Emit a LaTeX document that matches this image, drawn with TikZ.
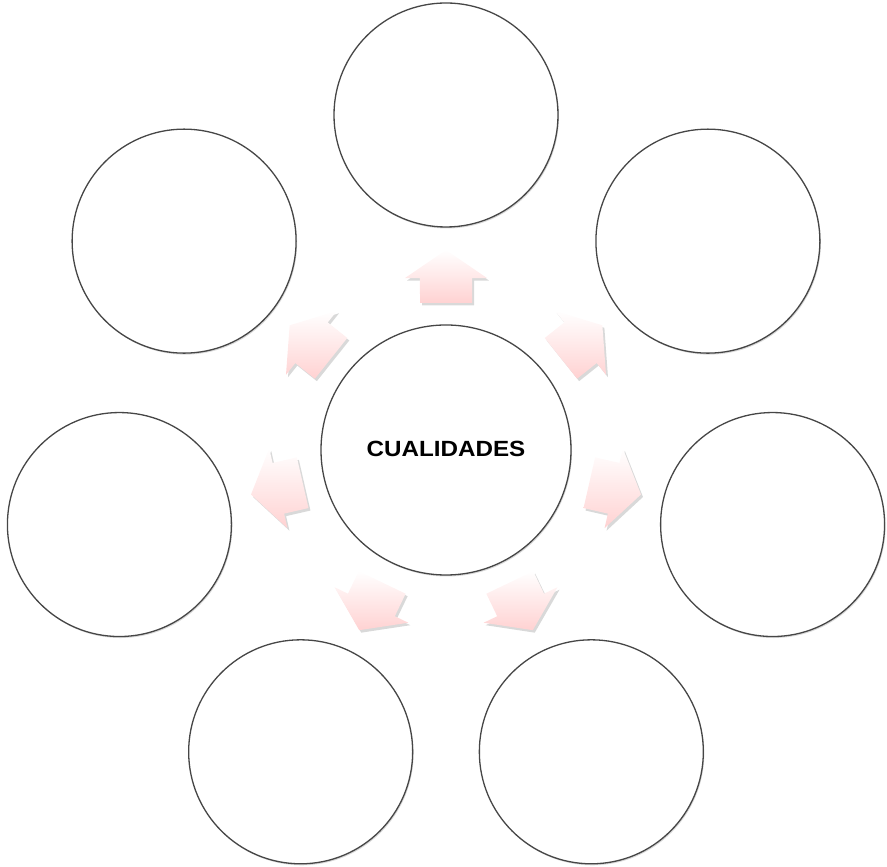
\documentclass[tikz,border=0pt]{standalone}
\usepackage{fontspec}
\setmainfont{Liberation Sans}
\usetikzlibrary{shadows,calc}
\definecolor{arrowpink}{RGB}{255,210,210}
\definecolor{ringgray}{RGB}{70,70,70}
\tikzset{
  bubble/.style={circle, draw=ringgray, line width=1.3pt, fill=white, inner sep=0pt,
    drop shadow={opacity=0.3, shadow xshift=1pt, shadow yshift=-1.5pt}},
  outerbubble/.style={bubble, minimum size=224pt},
  centerbubble/.style={bubble, minimum size=250pt},
  blockarrow/.style={top color=white, bottom color=arrowpink, draw=none,
    drop shadow={opacity=0.3, shadow xshift=2pt, shadow yshift=-2.5pt}}
}
\begin{document}
\begin{tikzpicture}[x=1pt,y=1pt]
\useasboundingbox (0,0) rectangle (887,867);
\node[centerbubble] (c) at (446,417) {};
\node[font=\bfseries\fontsize{22}{24}\selectfont, xscale=1.1] (lbl) at (446,418) {CUALIDADES};
\foreach \k [evaluate=\k as \ang using 90-\k*360/7] in {0,...,6}{
  \node[outerbubble] (o\k) at ($(c)+(\ang:335)$) {};
  \path[blockarrow, shift={(c)}]
    (\ang:200) -- (\ang-13.4:176.8) -- (\ang-8.6:173.95) -- (\ang-10.03:149.3)
    -- (\ang+10.03:149.3) -- (\ang+8.6:173.95) -- (\ang+13.4:176.8) -- cycle;
}
\end{tikzpicture}
\end{document}
